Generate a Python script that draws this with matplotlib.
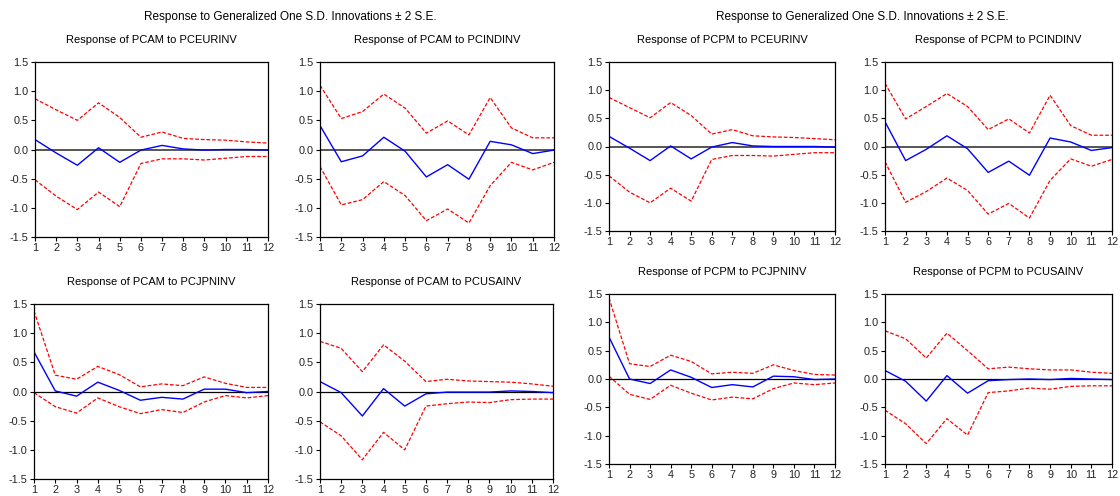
import matplotlib
matplotlib.use("Agg")
import matplotlib.pyplot as plt
from matplotlib.ticker import FormatStrFormatter

plt.rcParams['font.family'] = ['Liberation Sans', 'DejaVu Sans']

periods = list(range(1, 13))

# 각 패널: 충격반응(blue), 상한/하한 (red dashed)
titles = [
    "Response of PCAM to PCEURINV", "Response of PCAM to PCINDINV",
    "Response of PCAM to PCJPNINV", "Response of PCAM to PCUSAINV",
    "Response of PCPM to PCEURINV", "Response of PCPM to PCINDINV",
    "Response of PCPM to PCJPNINV", "Response of PCPM to PCUSAINV",
]

pcam_eur = [0.17, -0.06, -0.27, 0.03, -0.22, -0.01, 0.07, 0.01, -0.01, 0.0, 0.0, -0.01]
pcam_eur_hi = [0.87, 0.68, 0.50, 0.80, 0.55, 0.21, 0.30, 0.19, 0.17, 0.16, 0.13, 0.11]
pcam_eur_lo = [-0.52, -0.80, -1.03, -0.73, -0.98, -0.24, -0.16, -0.16, -0.18, -0.15, -0.12, -0.12]

pcam_ind = [0.41, -0.21, -0.11, 0.21, -0.03, -0.47, -0.26, -0.51, 0.14, 0.08, -0.07, -0.01]
pcam_ind_hi = [1.10, 0.53, 0.65, 0.95, 0.71, 0.28, 0.49, 0.25, 0.89, 0.37, 0.20, 0.20]
pcam_ind_lo = [-0.29, -0.95, -0.86, -0.55, -0.79, -1.22, -1.02, -1.26, -0.62, -0.22, -0.35, -0.22]

pcam_jpn = [0.68, 0.01, -0.08, 0.16, 0.02, -0.15, -0.10, -0.13, 0.04, 0.04, -0.02, 0.0]
pcam_jpn_hi = [1.38, 0.28, 0.21, 0.43, 0.29, 0.08, 0.13, 0.10, 0.25, 0.14, 0.07, 0.07]
pcam_jpn_lo = [-0.02, -0.26, -0.37, -0.11, -0.26, -0.38, -0.31, -0.36, -0.18, -0.07, -0.11, -0.07]

pcam_usa = [0.17, -0.02, -0.42, 0.05, -0.25, -0.04, -0.01, -0.01, -0.01, 0.01, 0.0, -0.02]
pcam_usa_hi = [0.86, 0.74, 0.34, 0.80, 0.52, 0.17, 0.21, 0.18, 0.17, 0.16, 0.13, 0.09]
pcam_usa_lo = [-0.52, -0.76, -1.17, -0.70, -1.00, -0.25, -0.21, -0.18, -0.19, -0.14, -0.13, -0.13]

pcpm_eur = [0.18, -0.03, -0.25, 0.01, -0.22, -0.01, 0.07, 0.01, 0.0, 0.0, 0.0, -0.01]
pcpm_eur_hi = [0.87, 0.69, 0.51, 0.78, 0.55, 0.22, 0.30, 0.19, 0.17, 0.16, 0.14, 0.12]
pcpm_eur_lo = [-0.52, -0.81, -1.00, -0.74, -0.97, -0.23, -0.16, -0.16, -0.17, -0.14, -0.11, -0.11]

pcpm_ind = [0.44, -0.25, -0.05, 0.19, -0.04, -0.46, -0.26, -0.51, 0.15, 0.08, -0.07, -0.02]
pcpm_ind_hi = [1.12, 0.49, 0.71, 0.94, 0.71, 0.30, 0.49, 0.24, 0.91, 0.37, 0.20, 0.20]
pcpm_ind_lo = [-0.27, -0.99, -0.80, -0.56, -0.78, -1.20, -1.01, -1.27, -0.60, -0.22, -0.35, -0.23]

pcpm_jpn = [0.74, 0.0, -0.08, 0.16, 0.03, -0.15, -0.10, -0.14, 0.05, 0.04, -0.01, 0.0]
pcpm_jpn_hi = [1.43, 0.27, 0.22, 0.42, 0.31, 0.09, 0.12, 0.10, 0.25, 0.15, 0.08, 0.07]
pcpm_jpn_lo = [0.05, -0.27, -0.36, -0.11, -0.25, -0.37, -0.32, -0.35, -0.17, -0.07, -0.10, -0.07]

pcpm_usa = [0.15, -0.04, -0.39, 0.06, -0.25, -0.03, -0.01, 0.0, -0.01, 0.01, 0.0, -0.01]
pcpm_usa_hi = [0.85, 0.71, 0.37, 0.81, 0.50, 0.18, 0.21, 0.18, 0.16, 0.16, 0.12, 0.10]
pcpm_usa_lo = [-0.55, -0.79, -1.14, -0.70, -0.99, -0.24, -0.21, -0.16, -0.18, -0.13, -0.12, -0.12]

series = [
    (pcam_eur, pcam_eur_hi, pcam_eur_lo), (pcam_ind, pcam_ind_hi, pcam_ind_lo),
    (pcam_jpn, pcam_jpn_hi, pcam_jpn_lo), (pcam_usa, pcam_usa_hi, pcam_usa_lo),
    (pcpm_eur, pcpm_eur_hi, pcpm_eur_lo), (pcpm_ind, pcpm_ind_hi, pcpm_ind_lo),
    (pcpm_jpn, pcpm_jpn_hi, pcpm_jpn_lo), (pcpm_usa, pcpm_usa_hi, pcpm_usa_lo),
]

W, H = 1120, 496
# 패널 위치 (left, top, right, bottom) 픽셀
boxes = [
    (35, 62, 268, 237), (320, 62, 554, 237),
    (34, 304, 268, 479), (320, 304, 553, 479),
    (609, 62, 835, 231), (885, 62, 1112, 231),
    (609, 294, 835, 464), (885, 294, 1112, 464),
]

fig = plt.figure(figsize=(W / 100, H / 100), dpi=100)

for i, (title, (irf, hi, lo), (l, t, r, b)) in enumerate(zip(titles, series, boxes)):
    ax = fig.add_axes([l / W, 1 - b / H, (r - l) / W, (b - t) / H])
    top_row = i in (0, 1, 4, 5)
    if top_row:
        ax.axhline(0, color='#555555', lw=1.4, zorder=1)
    else:
        ax.axhline(0, color='black', lw=0.9, zorder=1)
    ax.plot(periods, hi, color='red', lw=0.9, linestyle=(0, (3, 1.5)))
    ax.plot(periods, lo, color='red', lw=0.9, linestyle=(0, (3, 1.5)))
    ax.plot(periods, irf, color='blue', lw=1.0)
    ax.set_xlim(1, 12)
    ax.set_ylim(-1.5, 1.5)
    ax.set_xticks(periods)
    ax.set_yticks([-1.5, -1.0, -0.5, 0.0, 0.5, 1.0, 1.5])
    ax.yaxis.set_major_formatter(FormatStrFormatter('%.1f'))
    ax.tick_params(direction='out', length=3, width=0.8, labelsize=7.8,
                   labelcolor='#222222', pad=1.5)
    for s in ax.spines.values():
        s.set_linewidth(0.9)
    ax.set_title(title, fontsize=8, pad=14)

fig.text(290 / W, 1 - 17 / H, "Response to Generalized One S.D. Innovations \u00b1 2 S.E.",
         ha='center', va='center', fontsize=8.5)
fig.text(862 / W, 1 - 17 / H, "Response to Generalized One S.D. Innovations \u00b1 2 S.E.",
         ha='center', va='center', fontsize=8.5)

fig.savefig("out.png", dpi=100)
